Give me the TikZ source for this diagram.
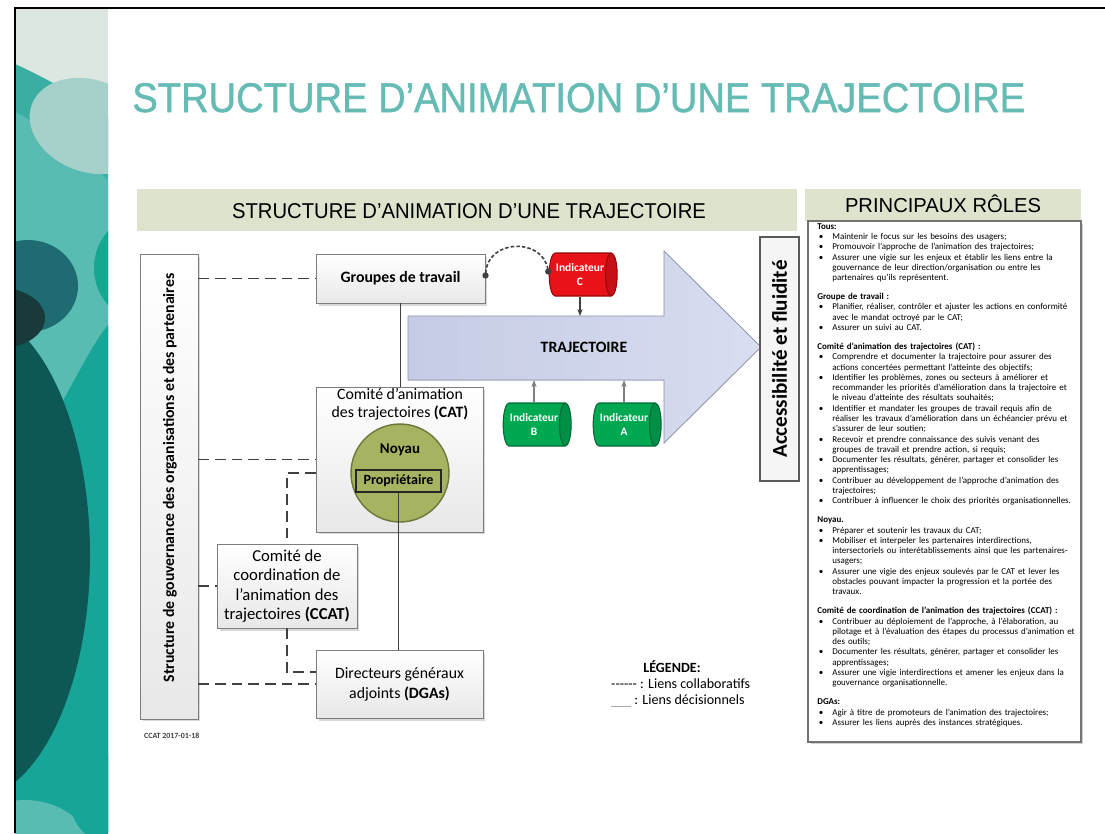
\documentclass[tikz,border=0pt]{standalone}
\usepackage{graphicx}
\usepackage{fontspec}
\setmainfont{Carlito}
\newfontfamily\titlefont[FakeBold=1.2]{Liberation Sans}
\newfontfamily\bandfont{Liberation Sans}
\usetikzlibrary{shapes.geometric,arrows.meta,shadows}

\definecolor{titleteal}{RGB}{102,187,180}
\definecolor{bandgreen}{RGB}{221,227,205}
\definecolor{boxline}{RGB}{125,125,125}
\definecolor{linkgrey}{RGB}{64,64,64}
\definecolor{noyaugreen}{RGB}{166,180,98}
\definecolor{noyauline}{RGB}{105,120,58}
\definecolor{trajleft}{RGB}{198,204,230}
\definecolor{trajright}{RGB}{216,221,240}
\definecolor{trajline}{RGB}{138,144,168}
\definecolor{indred}{RGB}{232,18,24}
\definecolor{indredline}{RGB}{150,10,10}
\definecolor{indgreen}{RGB}{0,168,82}
\definecolor{indgreenline}{RGB}{0,105,52}
\definecolor{stripgrey}{RGB}{221,231,226}
\definecolor{stripfade}{RGB}{166,208,202}
\definecolor{stripmid}{RGB}{88,188,178}
\definecolor{stripband}{RGB}{58,174,162}
\definecolor{stripdeep}{RGB}{22,165,150}
\definecolor{stripdark}{RGB}{13,88,85}
\definecolor{stripnight}{RGB}{24,58,59}
\definecolor{stripblue}{RGB}{30,108,114}
\definecolor{stripgreen}{RGB}{22,168,142}

\newcommand{\roleitem}[1]{\par\hangindent=0.3cm\hangafter=1\noindent\makebox[0.3cm][l]{\hspace{0.03cm}\textbullet}#1}
\newcommand{\rolehead}[1]{\par\vspace{5pt}\noindent\textbf{#1}}

\tikzset{
  box/.style={draw=boxline, top color=white, bottom color=black!9, inner sep=0pt, align=center,
    drop shadow={shadow xshift=0.05cm, shadow yshift=-0.05cm, opacity=0.3}},
  collab/.style={draw=linkgrey, line width=1.1pt, dash pattern=on 6pt off 3.5pt},
  decis/.style={draw=linkgrey, line width=0.8pt},
  indic/.style={cylinder, shape aspect=0.55, cylinder uses custom fill, minimum width=0.86cm,
    minimum height=1.36cm, inner sep=0pt, line width=0.6pt, text=white, align=center,
    font=\fontsize{6.5}{7.5}\selectfont\bfseries},
}

\begin{document}
\begin{tikzpicture}[x=0.02cm,y=-0.02cm]
    \useasboundingbox (0,0) rectangle (1105,833);
    \fill[white] (0,0) rectangle (1105,833);
    \begin{scope}
        \clip (15,8) rectangle (108,833);
        \fill[stripgrey] (15,8) rectangle (108,833);
        \fill[stripband] (15,64) .. controls (50,80) and (85,100) .. (108,118) -- (108,833) -- (15,833) -- cycle;
        \fill[stripmid] (15,112) .. controls (50,130) and (85,160) .. (108,180) -- (108,833) -- (15,833) -- cycle;
        \fill[stripfade, rotate around={-20:(90,126)}] (90,126) ellipse (62 and 46);
        \fill[stripdeep] (108,325) .. controls (80,360) and (60,420) .. (15,470) -- (15,833) -- (108,833) -- cycle;
        \fill[stripgreen] (150,268) circle (56);
        \fill[stripblue] (28,286) ellipse (50 and 46);
        \fill[stripdark] (-30,555) ellipse (120 and 245);
        \fill[stripnight] (0,318) ellipse (45 and 30);
        \fill[stripmid] (25,880) circle (80);
        \fill[stripdeep] (115,800) circle (45);
    \end{scope}
    \draw[line width=1pt] (15,833) -- (15,8) -- (1105,8);

    \node[anchor=base west, inner sep=0pt, text=titleteal] (title) at (132,112)
        {\resizebox{17.86cm}{0.58cm}{\titlefont STRUCTURE D’ANIMATION D’UNE TRAJECTOIRE}};

    \fill[bandgreen] (137,189) rectangle (797,231);
    \node[anchor=base, inner sep=0pt] (bandleft) at (469,218)
        {\resizebox{9.48cm}{0.30cm}{\bandfont STRUCTURE D’ANIMATION D’UNE TRAJECTOIRE}};
    \fill[bandgreen] (805,189) rectangle (1081,221);
    \node[anchor=base, inner sep=0pt] (bandright) at (943,212)
        {\resizebox{3.92cm}{!}{\bandfont PRINCIPAUX RÔLES}};

    \node[draw=black!55, fill=white, line width=0.8pt, minimum width=5.46cm, minimum height=10.42cm,
        drop shadow={shadow xshift=0.05cm, shadow yshift=-0.05cm, opacity=0.35}] (rolesbox) at (944.5,481.5) {};
    \node[anchor=north west, inner sep=0pt, text width=5.3cm, font=\fontsize{5.1}{5.85}\selectfont] (roles) at (817,223) {\raggedright
        \noindent\textbf{Tous:}
        \roleitem{Maintenir le focus sur les besoins des usagers;}
        \roleitem{Promouvoir l’approche de l’animation des trajectoires;}
        \roleitem{Assurer une vigie sur les enjeux et établir les liens entre la\newline gouvernance de leur direction/organisation ou entre les\newline partenaires qu’ils représentent.}
        \rolehead{Groupe de travail :}
        \roleitem{Planifier, réaliser, contrôler et ajuster les actions en conformité\newline avec le mandat octroyé par le CAT;}
        \roleitem{Assurer un suivi au CAT.}
        \rolehead{Comité d’animation des trajectoires (CAT) :}
        \roleitem{Comprendre et documenter la trajectoire pour assurer des\newline actions concertées permettant l’atteinte des objectifs;}
        \roleitem{Identifier les problèmes, zones ou secteurs à améliorer et\newline recommander les priorités d’amélioration dans la trajectoire et\newline le niveau d’atteinte des résultats souhaités;}
        \roleitem{Identifier et mandater les groupes de travail requis afin de\newline réaliser les travaux d’amélioration dans un échéancier prévu et\newline s’assurer de leur soutien;}
        \roleitem{Recevoir et prendre connaissance des suivis venant des\newline groupes de travail et prendre action, si requis;}
        \roleitem{Documenter les résultats, générer, partager et consolider les\newline apprentissages;}
        \roleitem{Contribuer au développement de l’approche d’animation des\newline trajectoires;}
        \roleitem{Contribuer à influencer le choix des priorités organisationnelles.}
        \rolehead{Noyau.}
        \roleitem{Préparer et soutenir les travaux du CAT;}
        \roleitem{Mobiliser et interpeler les partenaires interdirections,\newline intersectoriels ou interétablissements ainsi que les partenaires-\newline usagers;}
        \roleitem{Assurer une vigie des enjeux soulevés par le CAT et lever les\newline obstacles pouvant impacter la progression et la portée des\newline travaux.}
        \rolehead{Comité de coordination de l’animation des trajectoires (CCAT) :}
        \roleitem{Contribuer au déploiement de l’approche, à l’élaboration, au\newline pilotage et à l’évaluation des étapes du processus d’animation et\newline des outils;}
        \roleitem{Documenter les résultats, générer, partager et consolider les\newline apprentissages;}
        \roleitem{Assurer une vigie interdirections et amener les enjeux dans la\newline gouvernance organisationnelle.}
        \rolehead{DGAs:}
        \roleitem{Agir à titre de promoteurs de l’animation des trajectoires;}
        \roleitem{Assurer les liens auprès des instances stratégiques.}\par};

    \filldraw[draw=trajline, left color=trajleft, right color=trajright]
        (408,316) -- (664,316) -- (664,251) -- (761,347) -- (664,443) -- (664,380) -- (408,380) -- cycle;
    \node[font=\fontsize{9}{10}\selectfont\bfseries] (traj) at (584,347) {TRAJECTOIRE};
    \coordinate (trajtop) at (580,316);
    \coordinate (trajbot) at (580,380);

    \node[box, minimum width=1.16cm, minimum height=9.3cm] (gov) at (169,486.5) {};
    \node[rotate=90, font=\fontsize{9}{10}\selectfont\bfseries] (govlabel) at (170,478)
        {Structure de gouvernance des organisations et des partenaires};
    \node[box, minimum width=3.38cm, minimum height=0.98cm, font=\fontsize{9}{10}\selectfont\bfseries] (gt) at (400.5,278.5) {Groupes de travail};
    \node[box, minimum width=3.34cm, minimum height=2.9cm] (cat) at (399.5,459.5) {};
    \node[align=center, font=\fontsize{9}{10.3}\selectfont] (catlabel) at (400,404) {Comité d’animation\\des trajectoires \textbf{(CAT)}};
    \node[circle, draw=noyauline, fill=noyaugreen, line width=0.8pt, minimum size=1.96cm] (noyau) at (400,473) {};
    \node[font=\fontsize{8.5}{9}\selectfont\bfseries] (noyaulabel) at (400,450) {Noyau};
    \node[draw=black!85, fill=noyaugreen, line width=0.9pt, minimum width=1.7cm, minimum height=0.44cm, inner sep=0pt,
        font=\fontsize{8}{9}\selectfont\bfseries] (prop) at (398.5,481) {Propriétaire};
    \node[box, minimum width=2.8cm, minimum height=1.68cm, font=\fontsize{9.5}{11}\selectfont] (ccat) at (287,586)
        {Comité de\\coordination de\\l’animation des\\trajectoires \textbf{(CCAT)}};
    \node[box, minimum width=3.34cm, minimum height=1.36cm, font=\fontsize{9}{11.3}\selectfont] (dga) at (399.5,684)
        {Directeurs généraux\\adjoints \textbf{(DGAs)}};
    \node[draw=black!65, fill=black!4, line width=0.8pt, minimum width=0.78cm, minimum height=4.88cm] (acc) at (779.5,359) {};
    \node[rotate=90, font=\fontsize{12}{13}\selectfont\bfseries] (acclabel) at (acc.center) {Accessibilité et fluidité};

    \node[indic, draw=indredline, cylinder body fill=indred, cylinder end fill=indred!85!black] (indC) at (580,274.5) {Indicateur\\C};
    \node[indic, draw=indgreenline, cylinder body fill=indgreen, cylinder end fill=indgreen!85!black] (indB) at (534,424.5) {Indicateur\\B};
    \node[indic, draw=indgreenline, cylinder body fill=indgreen, cylinder end fill=indgreen!85!black] (indA) at (624,424.5) {Indicateur\\A};

    \draw[collab] (gt.west -| gov.east) -- (gt.west);
    \draw[collab] (cat.west -| gov.east) -- (cat.west);
    \draw[collab] ([yshift=-0.27cm]cat.west) -| (ccat.north);
    \draw[collab] (ccat.west -| gov.east) -- (ccat.west);
    \draw[collab] (ccat.south) |- ([yshift=0.24cm]dga.west);
    \draw[collab] (dga.west -| gov.east) -- (dga.west);
    \draw[decis] (gt.south) -- (gt.south |- cat.north);
    \draw[decis] (prop.south) -- (prop.south |- dga.north);
    \draw[linkgrey, line width=0.9pt, dash pattern=on 2pt off 1.2pt, {Circle[length=3.5pt]}-{Circle[length=3.5pt]}]
        (gt.east) .. controls (488,238) and (543,238) .. (indC.west);
    \draw[decis, -{Stealth[length=4pt]}] (indC.south) -- (indC.south |- trajtop);
    \draw[gray, line width=0.8pt, -{Stealth[length=4pt]}] (indB.north) -- (indB.north |- trajbot);
    \draw[gray, line width=0.8pt, -{Stealth[length=4pt]}] (indA.north) -- (indA.north |- trajbot);

    \node[font=\fontsize{8}{9}\selectfont\bfseries] (legtitle) at (672,667) {LÉGENDE:};
    \node[anchor=west, font=\fontsize{8}{9}\selectfont] (legcollab) at (605,684) {-{}-{}-{}-{}-{}- : Liens collaboratifs};
    \node[anchor=west, font=\fontsize{8}{9}\selectfont] (legdecis) at (605,701)
        {\textcolor{black!35}{\rule[-1.5pt]{0.4cm}{0.5pt}} : Liens décisionnels};
    \node[anchor=west, font=\fontsize{4.5}{5}\selectfont\bfseries, text=black!75] (stamp) at (138,736) {CCAT 2017-01-18};
\end{tikzpicture}
\end{document}
